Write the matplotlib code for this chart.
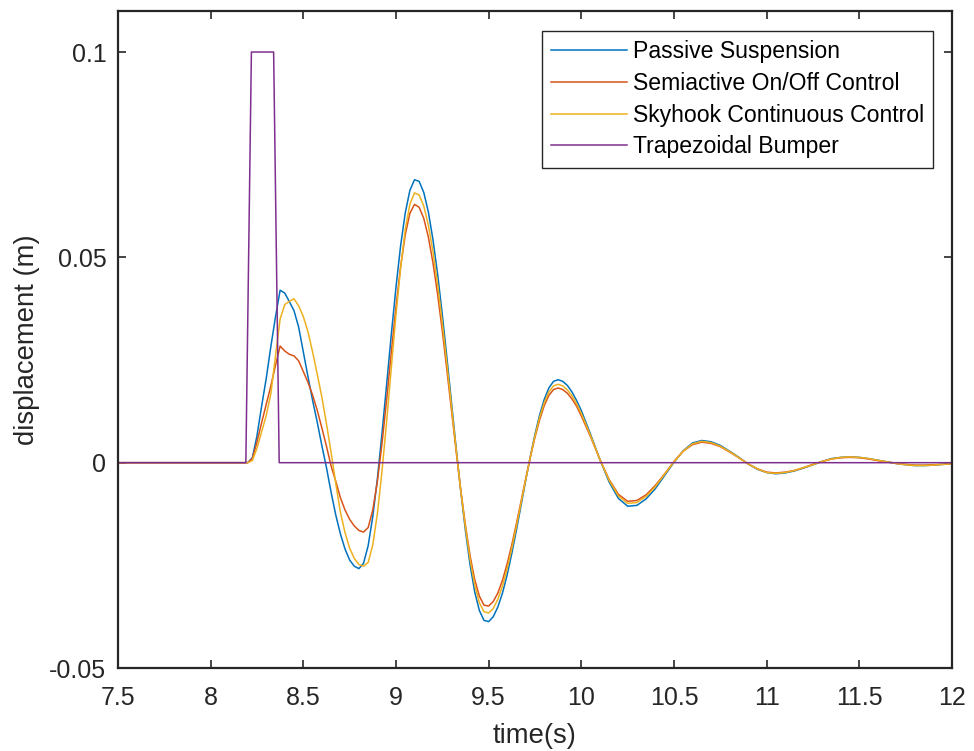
import numpy as np
import matplotlib
matplotlib.use("Agg")
import matplotlib.pyplot as plt

plt.rcParams['font.family'] = ['Liberation Sans', 'DejaVu Sans']

# sample times (s): flat start, then dense around the big swings, coarser at the tail
t_head = [7.5, 8.175]
t_mid = np.round(np.arange(8.2, 10.0001, 0.025), 3)
t_tail = np.round(np.arange(10.05, 12.0001, 0.05), 3)
t = np.concatenate([t_head, t_mid, t_tail])

passive = [0.0, 0.0,
           0.0000, 0.0012, 0.0065, 0.0137, 0.0205, 0.0283, 0.0355, 0.0420, 0.0413, 0.0392,
           0.0370, 0.0330, 0.0270, 0.0210, 0.0152, 0.0099, 0.0042, -0.0012, -0.0072, -0.0127,
           -0.0173, -0.0210, -0.0237, -0.0252, -0.0258, -0.0245, -0.0202, -0.0131, -0.0038, 0.0073,
           0.0192, 0.0313, 0.0427, 0.0528, 0.0608, 0.0663, 0.0689, 0.0685, 0.0658, 0.0610,
           0.0542, 0.0458, 0.0361, 0.0255, 0.0145, 0.0035, -0.0071, -0.0166, -0.0249, -0.0315,
           -0.0360, -0.0384, -0.0387, -0.0375, -0.0351, -0.0317, -0.0273, -0.0221, -0.0164, -0.0104,
           -0.0043, 0.0015, 0.0069, 0.0116, 0.0154, 0.0182, 0.0198, 0.0202, 0.0198, 0.0188,
           0.0172, 0.0151, 0.0127,
           0.0069, 0.0008, -0.0047, -0.0087, -0.0106,
           -0.0104, -0.0088, -0.0063, -0.0031, 0.0001, 0.0029, 0.0048, 0.0054,
           0.0051, 0.0042, 0.0028, 0.0013, -0.0003, -0.0016, -0.0024, -0.0027,
           -0.0025, -0.0020, -0.0013, -0.0005, 0.0003, 0.0010, 0.0013, 0.0014,
           0.0013, 0.0010, 0.0006, 0.0002, -0.0002, -0.0005, -0.0007, -0.0007,
           -0.0006, -0.0004, -0.0003]

semiactive = [0.0, 0.0,
              0.0000, 0.0010, 0.0050, 0.0097, 0.0142, 0.0187, 0.0237, 0.0284, 0.0272, 0.0264,
              0.0260, 0.0248, 0.0222, 0.0196, 0.0165, 0.0128, 0.0085, 0.0040, -0.0008, -0.0045,
              -0.0085, -0.0115, -0.0138, -0.0154, -0.0165, -0.0169, -0.0158, -0.0115, -0.0045, 0.0048,
              0.0155, 0.0269, 0.0379, 0.0477, 0.0555, 0.0607, 0.0629, 0.0622, 0.0595, 0.0549,
              0.0486, 0.0409, 0.0321, 0.0225, 0.0126, 0.0027, -0.0068, -0.0153, -0.0227, -0.0285,
              -0.0325, -0.0347, -0.0349, -0.0338, -0.0317, -0.0286, -0.0246, -0.0200, -0.0148, -0.0094,
              -0.0039, 0.0013, 0.0062, 0.0104, 0.0139, 0.0164, 0.0178, 0.0182, 0.0178, 0.0169,
              0.0155, 0.0137, 0.0114,
              0.0063, 0.0008, -0.0041, -0.0077, -0.0094,
              -0.0092, -0.0078, -0.0055, -0.0027, 0.0003, 0.0028, 0.0044, 0.0050,
              0.0047, 0.0039, 0.0026, 0.0012, -0.0003, -0.0015, -0.0023, -0.0025,
              -0.0023, -0.0019, -0.0012, -0.0004, 0.0003, 0.0009, 0.0012, 0.0013,
              0.0012, 0.0009, 0.0005, 0.0002, -0.0002, -0.0004, -0.0006, -0.0006,
              -0.0005, -0.0004, -0.0003]

skyhook = [0.0, 0.0,
           0.0000, 0.0005, 0.0035, 0.0075, 0.0115, 0.0168, 0.0260, 0.0350, 0.0385, 0.0393,
           0.0399, 0.0382, 0.0356, 0.0319, 0.0270, 0.0216, 0.0160, 0.0095, 0.0025, -0.0050,
           -0.0120, -0.0170, -0.0208, -0.0233, -0.0248, -0.0252, -0.0243, -0.0200, -0.0123, -0.0019,
           0.0102, 0.0232, 0.0360, 0.0474, 0.0567, 0.0629, 0.0657, 0.0652, 0.0625, 0.0578,
           0.0513, 0.0433, 0.0340, 0.0240, 0.0135, 0.0031, -0.0069, -0.0158, -0.0236, -0.0298,
           -0.0341, -0.0363, -0.0366, -0.0355, -0.0332, -0.0300, -0.0258, -0.0209, -0.0155, -0.0098,
           -0.0041, 0.0014, 0.0065, 0.0110, 0.0146, 0.0172, 0.0187, 0.0191, 0.0187, 0.0177,
           0.0163, 0.0143, 0.0120,
           0.0066, 0.0008, -0.0043, -0.0081, -0.0099,
           -0.0097, -0.0082, -0.0058, -0.0028, 0.0002, 0.0028, 0.0046, 0.0052,
           0.0049, 0.0040, 0.0027, 0.0012, -0.0003, -0.0015, -0.0024, -0.0026,
           -0.0024, -0.0019, -0.0012, -0.0005, 0.0003, 0.0009, 0.0013, 0.0014,
           0.0013, 0.0010, 0.0006, 0.0002, -0.0002, -0.0005, -0.0007, -0.0007,
           -0.0006, -0.0004, -0.0003]

bump_t = [7.5, 8.19, 8.22, 8.34, 8.37, 12.0]
bump_h = [0.0, 0.0, 0.1, 0.1, 0.0, 0.0]

labels = ['Passive Suspension', 'Semiactive On/Off Control',
          'Skyhook Continuous Control', 'Trapezoidal Bumper']
colors = ['#0072BD', '#D95319', '#EDB120', '#7E2F8E']

xticks = [7.5, 8, 8.5, 9, 9.5, 10, 10.5, 11, 11.5, 12]
xtick_labels = ['7.5', '8', '8.5', '9', '9.5', '10', '10.5', '11', '11.5', '12']
yticks = [-0.05, 0, 0.05, 0.1]
ytick_labels = ['-0.05', '0', '0.05', '0.1']

fig = plt.figure(figsize=(9.74, 7.51), dpi=100)
ax = fig.add_axes([0.1211, 0.1105, 0.8563, 0.8749])

ax.plot(t, passive, color=colors[0], lw=1.1, label=labels[0])
ax.plot(t, semiactive, color=colors[1], lw=1.1, label=labels[1])
ax.plot(t, skyhook, color=colors[2], lw=1.1, label=labels[2])
ax.plot(bump_t, bump_h, color=colors[3], lw=1.1, label=labels[3])

ax.set_xlim(7.5, 12)
ax.set_ylim(-0.05, 0.11)
ax.set_xticks(xticks)
ax.set_xticklabels(xtick_labels)
ax.set_yticks(yticks)
ax.set_yticklabels(ytick_labels)
ax.tick_params(direction='in', length=6, width=1.2, top=True, right=True,
               labelsize=18, colors='#262626')
ax.tick_params(axis='x', pad=13.2)
ax.tick_params(axis='y', pad=8.3)
for s in ax.spines.values():
    s.set_linewidth(1.6)
    s.set_color('#262626')

ax.set_xlabel('time(s)', fontsize=19.8, color='#262626')
ax.set_ylabel('displacement (m)', fontsize=19.8, color='#262626')
ax.xaxis.set_label_coords(0.5, -0.0837)
ax.yaxis.set_label_coords(-0.093, 0.5)

leg = ax.legend(loc='upper right', bbox_to_anchor=(0.9772, 0.9696), borderaxespad=0,
                fontsize=16.6, handlelength=3.3, handletextpad=0.25, labelspacing=0.38,
                borderpad=0.4, fancybox=False, framealpha=1)
leg.get_frame().set_edgecolor('#262626')
leg.get_frame().set_linewidth(1.0)

fig.savefig('out.png', dpi=100)
